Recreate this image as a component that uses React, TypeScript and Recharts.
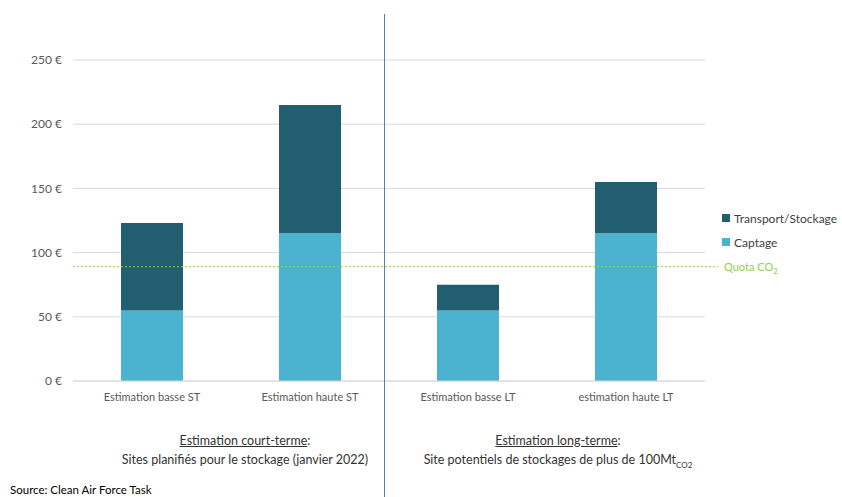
import React from 'react'
import { ComposedChart, Bar, XAxis, YAxis, CartesianGrid, ReferenceLine } from 'recharts'

// catégories et valeurs (€/tCO2)
const categories = ['Estimation basse ST', 'Estimation haute ST', 'Estimation basse LT', 'estimation haute LT']
const captage = [55, 115, 55, 115]
const transport = [68, 100, 20, 40]
const quota = 89
const yTicks = [0, 50, 100, 150, 200, 250]

const legendItems = [
  { name: 'Transport/Stockage', color: '#215e70' },
  { name: 'Captage', color: '#4bb2d0' },
]

const data = categories.map((c, i) => ({ name: c, captage: captage[i], transport: transport[i] }))

const FONT = 'Lato, "Open Sans", sans-serif'

const QuotaLine = (props: any) => {
  const { x1, y1, x2, y2 } = props
  return <line x1={x1} y1={y1} x2={x2 + 13} y2={y2} stroke="#92d050" strokeWidth={1} strokeDasharray="2 2" />
}

const QuotaLabel = (props: any) => {
  const vb = props.viewBox || {}
  return (
    <text x={vb.x + vb.width + 19} y={vb.y + 4} fill="#92d050" fontSize={11} fontFamily={FONT}>
      Quota CO<tspan fontSize={8} dy={3}>2</tspan>
    </text>
  )
}

export default function App() {
  return (
    <div style={{ position: 'absolute', left: 0, top: 0, width: 842, height: 497, background: '#fff', overflow: 'hidden' }}>
      <ComposedChart width={842} height={497} data={data} margin={{ top: 60, right: 137, bottom: 86, left: 0 }}>
        <CartesianGrid vertical={false} stroke="#d9d9d9" />
        <XAxis
          dataKey="name"
          height={30}
          tickLine={false}
          tickSize={0}
          tickMargin={12}
          axisLine={{ stroke: '#d9d9d9' }}
          tick={{ fill: '#595959', fontSize: 11, fontFamily: FONT }}
          interval={0}
        />
        <YAxis
          width={73}
          domain={[0, 250]}
          ticks={yTicks}
          axisLine={false}
          tickLine={false}
          tickSize={0}
          tickMargin={11}
          tickFormatter={(v: number) => `${v} €`}
          tick={{ fill: '#595959', fontSize: 12, fontFamily: FONT }}
        />
        <Bar dataKey="captage" stackId="a" fill="#4bb2d0" barSize={62} isAnimationActive={false} />
        <Bar dataKey="transport" stackId="a" fill="#215e70" barSize={62} isAnimationActive={false} />
        <ReferenceLine y={quota} shape={QuotaLine} label={{ content: QuotaLabel }} />
      </ComposedChart>
      <svg width={842} height={497} style={{ position: 'absolute', left: 0, top: 0, pointerEvents: 'none' }}>
        <line x1={384.5} y1={14} x2={384.5} y2={497} stroke="#4f86a3" strokeWidth={1} />
      </svg>
      <div style={{ position: 'absolute', left: 722, top: 206, fontFamily: FONT, fontSize: 12, color: '#404040' }}>
        {legendItems.map(it => (
          <div key={it.name} style={{ display: 'flex', alignItems: 'center', height: 24 }}>
            <span style={{ width: 8, height: 8, background: it.color, marginRight: 4, display: 'inline-block' }}></span>
            {it.name}
          </div>
        ))}
      </div>
      <div style={{ position: 'absolute', left: 95, width: 300, top: 431, textAlign: 'center', fontFamily: FONT, fontSize: 12.5, color: '#333', lineHeight: '19px' }}>
        <span style={{ textDecoration: 'underline' }}>Estimation court-terme</span>:<br />
        Sites planifiés pour le stockage (janvier 2022)
      </div>
      <div style={{ position: 'absolute', left: 397, width: 322, top: 431, textAlign: 'center', fontFamily: FONT, fontSize: 12.5, color: '#333', lineHeight: '19px' }}>
        <span style={{ textDecoration: 'underline' }}>Estimation long-terme</span>:<br />
        Site potentiels de stockages de plus de 100Mt<sub style={{ fontSize: 8, lineHeight: 0 }}>CO2</sub>
      </div>
      <div style={{ position: 'absolute', left: 10, top: 483, fontFamily: FONT, fontSize: 11.5, lineHeight: '14px', color: '#000' }}>
        Source: Clean Air Force Task
      </div>
    </div>
  )
}
